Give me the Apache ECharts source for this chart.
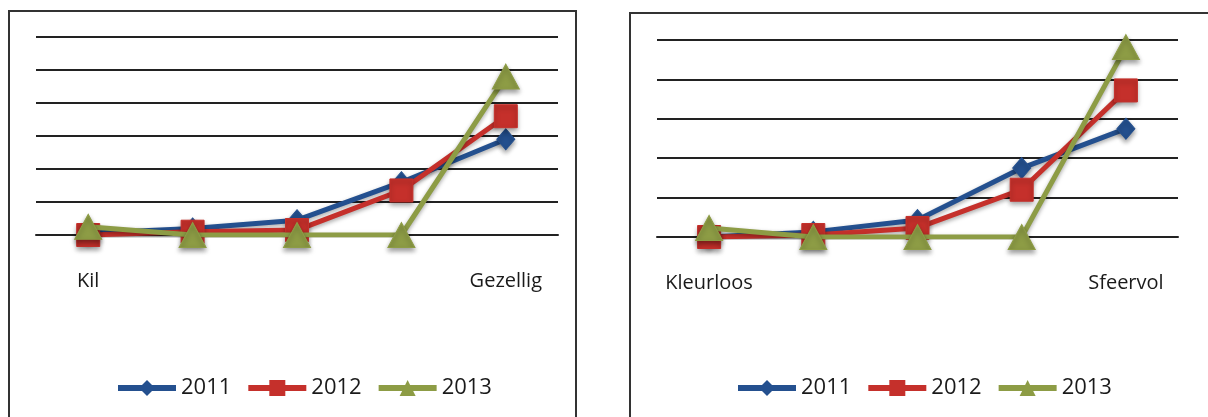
<!DOCTYPE html>
<html>
<head>
<meta charset="utf-8">
<script src="https://cdn.jsdelivr.net/npm/echarts@6/dist/echarts.min.js"></script>
<style>
    body { margin: 0; background: #fff; width: 1208px; height: 417px; overflow: hidden; position: relative; }
    .frame { position: absolute; border: 2px solid #333; box-sizing: border-box; }
    .chart { position: absolute; }
</style>
</head>
<body>
<div class="frame" style="left:8px;top:10px;width:569px;height:430px;"></div>
<div class="frame" style="left:629px;top:12px;width:600px;height:430px;"></div>
<div id="chartLeft" class="chart" style="left:8px;top:10px;width:569px;height:420px;"></div>
<div id="chartRight" class="chart" style="left:629px;top:12px;width:600px;height:420px;"></div>
<script>
// categorieën (alleen de uitersten hebben een label)
var catLeft = ['Kil', '', '', '', 'Gezellig'];
var catRight = ['Kleurloos', '', '', '', 'Sfeervol'];
var years = ['2011', '2012', '2013'];

// links: Kil - Gezellig
var left2011 = [1.05, 1.2, 1.45, 2.6, 3.9];
var left2012 = [1.0, 1.1, 1.15, 2.35, 4.6];
var left2013 = [1.25, 1.0, 1.0, 1.0, 5.8];

// rechts: Kleurloos - Sfeervol
var right2011 = [1.0, 1.13, 1.43, 2.75, 3.75];
var right2012 = [1.0, 1.05, 1.23, 2.2, 4.72];
var right2013 = [1.23, 1.0, 1.0, 1.0, 5.82];

var colors = ['#24508f', '#c5302b', '#8d9c45'];
var symbols = ['diamond', 'rect', 'triangle'];
var symbolSizes = [[18, 21], [23, 23], [27, 25]];

function makeSeries(data) {
    var series = [];
    for (var i = 0; i < 3; i++) {
        series.push({
            name: years[i],
            type: 'line',
            data: data[i],
            symbol: symbols[i],
            symbolSize: symbolSizes[i],
            z: 2 + i,
            lineStyle: {
                width: 5,
                color: colors[i],
                shadowColor: 'rgba(0,0,0,0.35)',
                shadowBlur: 4,
                shadowOffsetY: 2
            },
            itemStyle: {
                color: colors[i],
                borderColor: colors[i],
                borderWidth: 1,
                shadowColor: 'rgba(0,0,0,0.4)',
                shadowBlur: 5,
                shadowOffsetY: 3
            },
            animation: false
        });
    }
    return series;
}

function drawPanel(id, cats, data, yMax, grid, legendPos) {
    var option = {
        backgroundColor: 'transparent',
        animation: false,
        textStyle: { fontFamily: 'Open Sans' },
        legend: {
            data: years,
            left: legendPos.left,
            top: legendPos.top,
            itemWidth: 58,
            itemHeight: 20,
            itemGap: 14,
            itemStyle: { borderWidth: 0 },
            lineStyle: { width: 6 },
            textStyle: { fontSize: 22, color: '#1a1a1a', fontFamily: 'Open Sans' }
        },
        grid: grid,
        xAxis: {
            type: 'category',
            data: cats,
            boundaryGap: true,
            axisTick: { show: false },
            axisLine: { show: true, lineStyle: { color: '#222', width: 2 } },
            axisLabel: { interval: 0, margin: 36, fontSize: 20, color: '#1a1a1a', fontFamily: 'Open Sans' }
        },
        yAxis: {
            type: 'value',
            min: 1,
            max: yMax,
            interval: 1,
            axisLine: { show: false },
            axisTick: { show: false },
            axisLabel: { show: false },
            splitLine: { show: true, lineStyle: { color: '#222', width: 2 } }
        },
        series: makeSeries(data)
    };
    var myChart = echarts.init(document.getElementById(id));
    myChart.setOption(option);
}

drawPanel('chartLeft', catLeft, [left2011, left2012, left2013], 7,
    { left: 28, right: 19, top: 27, bottom: 195 },
    { left: 102, top: 362 });

drawPanel('chartRight', catRight, [right2011, right2012, right2013], 6,
    { left: 28, right: 51, top: 28, bottom: 195 },
    { left: 101, top: 360 });
</script>
</body>
</html>
